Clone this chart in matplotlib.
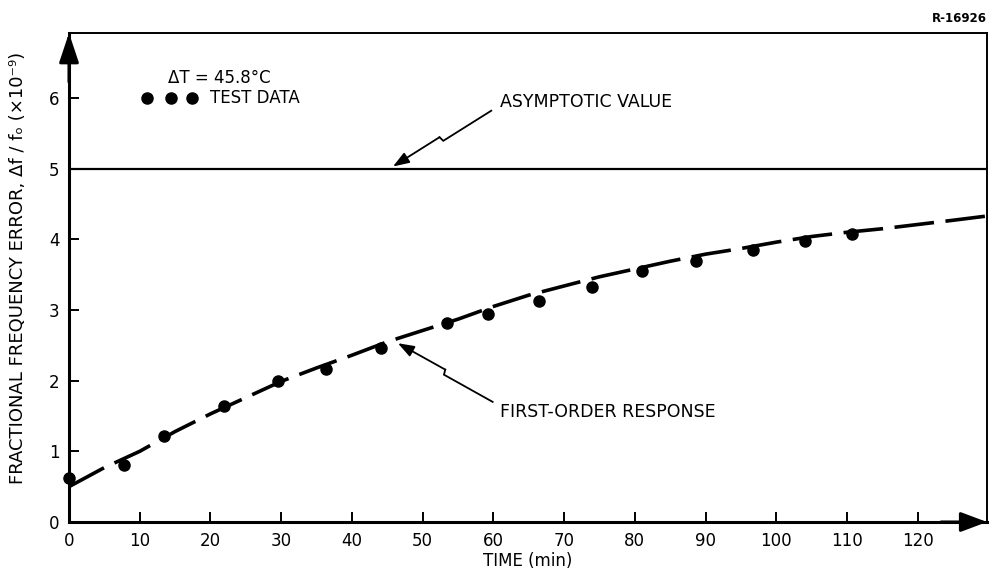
import numpy as np
import matplotlib
matplotlib.use("Agg")
import matplotlib.pyplot as plt

plt.rcParams['font.family'] = ['DejaVu Sans']

# ---- data ----
test_time = [0, 7.8, 13.4, 21.9, 29.6, 36.4, 44.1, 53.4, 59.2, 66.5, 74.0,
             81.0, 88.7, 96.7, 104.1, 110.7]
test_error = [0.62, 0.81, 1.21, 1.64, 1.99, 2.16, 2.46, 2.82, 2.94, 3.13, 3.33,
              3.55, 3.69, 3.85, 3.97, 4.08]

response_time = [0, 5, 10, 15, 20, 25, 30, 35, 40, 45, 50, 55, 60, 65, 70, 75,
                 80, 85, 90, 95, 100, 105, 110, 115, 120, 125, 129.8]
response_error = [0.50, 0.77, 1.00, 1.28, 1.53, 1.76, 1.99, 2.18, 2.36, 2.55,
                  2.71, 2.87, 3.05, 3.21, 3.34, 3.47, 3.58, 3.69, 3.79, 3.87,
                  3.96, 4.04, 4.10, 4.15, 4.21, 4.27, 4.33]

asymptotic_value = 5.0
x_ticks = [0, 10, 20, 30, 40, 50, 60, 70, 80, 90, 100, 110, 120]
y_ticks = [0, 1, 2, 3, 4, 5, 6]

fig = plt.figure(figsize=(9.89, 5.72), dpi=100)
W, H = 989, 572
ax = fig.add_axes([69 / W, (H - 522) / H, (987 - 69) / W, (522 - 33) / H])
ax.set_xlim(0, 129.8)
ax.set_ylim(0, 6.92)

# asymptote
ax.axhline(asymptotic_value, color='black', lw=1.6, zorder=2)

# first-order response (dashed)
ax.plot(response_time, response_error, color='black', lw=2.6,
        linestyle=(0, (11, 3.2)), solid_capstyle='butt', zorder=3)

# test data
ax.plot(test_time, test_error, 'o', color='black', markersize=8, zorder=4,
        clip_on=False)

# spines
for s in ['left', 'bottom']:
    ax.spines[s].set_linewidth(2.2)
for s in ['top', 'right']:
    ax.spines[s].set_linewidth(1.4)

ax.set_xticks(x_ticks)
ax.set_yticks(y_ticks)
ax.set_xticklabels([str(v) for v in x_ticks])
ax.set_yticklabels([str(v) for v in y_ticks])
ax.tick_params(direction='in', length=7, width=1.4, labelsize=12, pad=7,
               top=False, right=False)

# axis arrows
ax.annotate('', xy=(0, 1), xytext=(0, 0.9), xycoords='axes fraction',
            arrowprops=dict(arrowstyle='-|>,head_length=0.9,head_width=0.3',
                            mutation_scale=20, color='black', lw=2.2,
                            shrinkA=0, shrinkB=0), annotation_clip=False)
ax.annotate('', xy=(1, 0), xytext=(0.95, 0), xycoords='axes fraction',
            arrowprops=dict(arrowstyle='-|>,head_length=0.8,head_width=0.3',
                            mutation_scale=20, color='black', lw=2.2,
                            shrinkA=0, shrinkB=0), annotation_clip=False)

# labels
ax.set_xlabel('TIME (min)', fontsize=12, labelpad=2)
fig.text(18 / W, 1 - 268 / H,
         'FRACTIONAL FREQUENCY ERROR, \u0394f / f\u2092 (\u00d710\u207b\u2079)',
         rotation=90, ha='center', va='center', fontsize=13)
fig.text(987 / W, 1 - 18 / H, 'R-16926', ha='right', va='center',
         fontsize=8.5, fontweight='bold')

# legend-like annotation
ax.text(21.3, 6.29, '\u0394T = 45.8\u00b0C', ha='center', va='center', fontsize=12)
ax.plot([11.0, 14.4, 17.4], [6.0, 6.0, 6.0], 'o', color='black', markersize=8)
ax.text(19.9, 6.0, 'TEST DATA', ha='left', va='center', fontsize=12)


def zigzag_arrow(ax, start, tip):
    sx, sy = ax.transData.transform(start)
    tx, ty = ax.transData.transform(tip)
    d = np.array([tx - sx, ty - sy])
    L = np.hypot(*d)
    d = d / L
    n = np.array([-d[1], d[0]])
    m = np.array([sx, sy]) + 0.5 * L * d
    p1 = m + 2.5 * n
    p2 = m + 1.5 * d - 2.5 * n
    inv = ax.transData.inverted()
    p1d = inv.transform(p1)
    p2d = inv.transform(p2)
    ax.plot([start[0], p1d[0], p2d[0]], [start[1], p1d[1], p2d[1]],
            color='black', lw=1.3, solid_joinstyle='miter')
    ax.annotate('', xy=tip, xytext=p2d,
                arrowprops=dict(arrowstyle='-|>,head_length=0.7,head_width=0.25',
                                mutation_scale=14, color='black', lw=1.3,
                                shrinkA=0, shrinkB=0))


ax.text(60.9, 5.945, 'ASYMPTOTIC VALUE', ha='left', va='center', fontsize=12.5)
zigzag_arrow(ax, (59.7, 5.82), (45.8, 5.03))

ax.text(60.9, 1.56, 'FIRST-ORDER RESPONSE', ha='left', va='center', fontsize=12.5)
zigzag_arrow(ax, (59.9, 1.70), (46.5, 2.53))

fig.savefig('out.png', dpi=100)
